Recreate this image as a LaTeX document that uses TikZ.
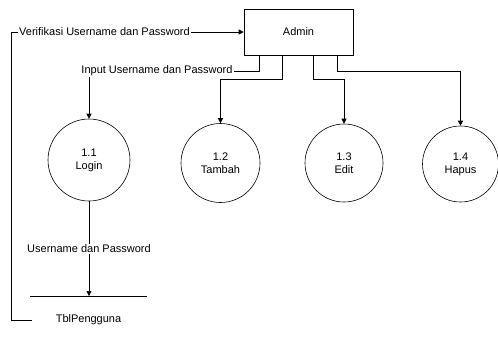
\documentclass[tikz,border=0pt]{standalone}
\usepackage{fontspec}
\setmainfont{Liberation Sans}
\usetikzlibrary{arrows.meta, positioning, calc}

\begin{document}
\begin{tikzpicture}[x=1pt, y=-1pt,
                entity/.style={draw, line width=0.6pt, minimum width=109pt, minimum height=46pt,
                               font=\fontsize{11}{13}\selectfont},
                process/.style={draw, circle, line width=0.6pt, minimum size=#1, inner sep=0pt,
                                align=center, font=\fontsize{11}{13}\selectfont},
                process/.default=78pt,
                flowlabel/.style={fill=white, inner sep=1pt, font=\fontsize{11}{13}\selectfont},
                flow/.style={-{Triangle[length=5pt, width=5pt]}, line width=0.6pt}]

                \useasboundingbox (0,0) rectangle (498,341);

                % External entity on top
                \node[entity] (admin) at (298.5,32) {Admin};

                % Processes in one row below
                \node[process=82pt] (login) at (89,160) {1.1\\Login};
                \node[process=79pt] (tambah) at (220.5,163) {1.2\\Tambah};
                \node[process=78pt] (edit) at (344,163) {1.3\\Edit};
                \node[process=76pt] (hapus) at (460.5,164) {1.4\\Hapus};

                % Data store under Login
                \coordinate (storetop) at (89,296);
                \draw[line width=0.6pt] ([xshift=-59pt]storetop) -- ([xshift=58pt]storetop);
                \node[font=\fontsize{11}{13}\selectfont, inner sep=0pt] (tbl) at (88.5,320) {TblPengguna};

                % Store back to Admin
                \draw[flow] ([xshift=-24pt]tbl.west) -- ++(-20,0) |- (admin.west);
                \node[flowlabel] (verlbl) at (104.5,32) {Verifikasi Username dan Password};

                % Admin to processes
                \draw[flow] ([xshift=15.3pt]admin.south west) -- ++(0,16) -| (login.north);
                \node[flowlabel] (inputlbl) at (157,71) {Input Username dan Password};
                \draw[flow] ([xshift=38.7pt]admin.south west) -- ++(0,24) -| (tambah.north);
                \draw[flow] ([xshift=70pt]admin.south west) -- ++(0,24) -| (edit.north);
                \draw[flow] ([xshift=93.3pt]admin.south west) -- ++(0,16) -| (hapus.north);

                % Login to store
                \draw[flow] (login.south) -- (storetop)
                    node[flowlabel, midway] (userlbl) {Username dan Password};
            \end{tikzpicture}
\end{document}
